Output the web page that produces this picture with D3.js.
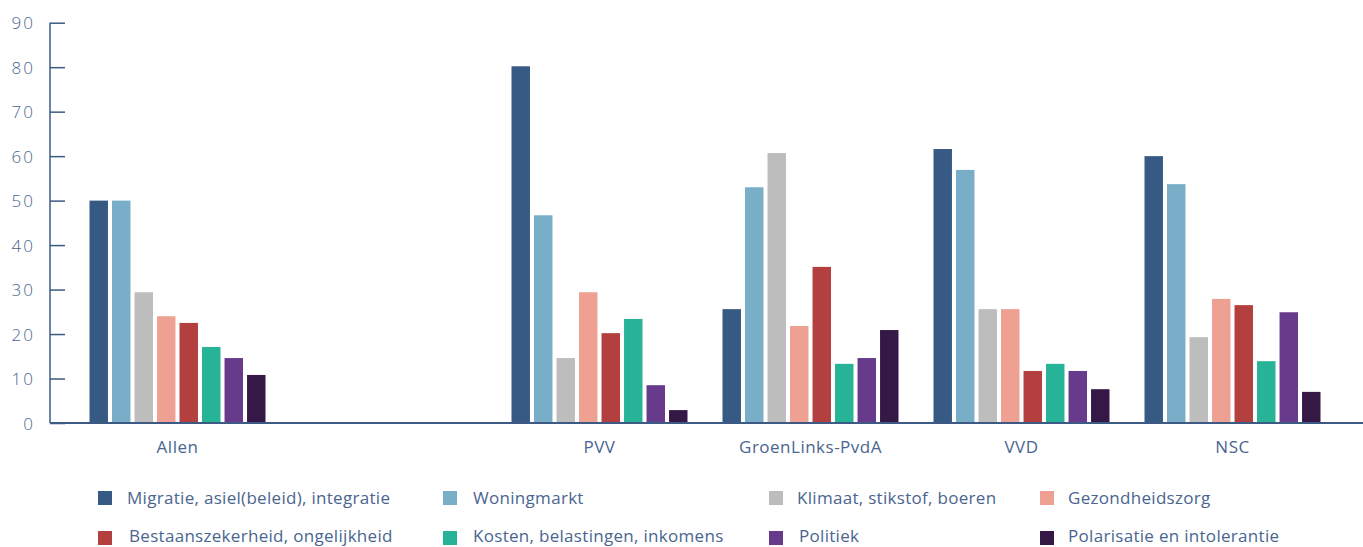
<!DOCTYPE html>
<html>
<head>
<meta charset="utf-8">
<script src="https://cdn.jsdelivr.net/npm/d3@7"></script>
<style>
  html, body { margin: 0; padding: 0; background: #fff; }
  svg { display: block; font-family: "Open Sans", Lato, sans-serif; font-weight: 400; }
</style>
</head>
<body>
<svg id="chart" width="1363" height="547"></svg>
<script>
const groups = ["Allen", "", "PVV", "GroenLinks-PvdA", "VVD", "NSC"];
const series = [
  "Migratie, asiel(beleid), integratie",
  "Woningmarkt",
  "Klimaat, stikstof, boeren",
  "Gezondheidszorg",
  "Bestaanszekerheid, ongelijkheid",
  "Kosten, belastingen, inkomens",
  "Politiek",
  "Polarisatie en intolerantie"
];
const colors = ["#375a84", "#78aec8", "#bdbdbd", "#eea093", "#b43f3f", "#27b398", "#683a8c", "#351846"];
// values per group, in series order
const allen = [50, 50, 29.4, 24, 22.5, 17.1, 14.6, 10.8];
const pvv   = [80.2, 46.7, 14.6, 29.4, 20.2, 23.4, 8.5, 2.9];
const glpvda= [25.6, 53, 60.7, 21.8, 35.1, 13.3, 14.6, 20.9];
const vvd   = [61.6, 56.9, 25.6, 25.6, 11.7, 13.3, 11.7, 7.6];
const nsc   = [60, 53.7, 19.3, 27.9, 26.5, 13.9, 24.9, 7.0];
const yTicks = [0, 10, 20, 30, 40, 50, 60, 70, 80, 90];

const dataByGroup = {"Allen": allen, "PVV": pvv, "GroenLinks-PvdA": glpvda, "VVD": vvd, "NSC": nsc};

const svg = d3.select("#chart");
const axisColor = "#3d5a85";
const textColor = "#4a6590";

const y = d3.scaleLinear().domain([0, 90]).range([423, 22.7]);
const x0 = d3.scaleBand().domain(groups).range([72, 1338]).padding(0);
const x1 = d3.scaleBand().domain(series).range([0, 176]).paddingInner(0.18).paddingOuter(0);

// bars
const gBars = svg.append("g");
groups.filter(g => dataByGroup[g]).forEach(g => {
  const cx = x0(g) + x0.bandwidth() / 2;
  const gg = gBars.append("g").attr("transform", `translate(${cx - 88},0)`);
  gg.selectAll("rect")
    .data(series.map((s, i) => ({s, v: dataByGroup[g][i], c: colors[i]})))
    .join("rect")
    .attr("x", d => x1(d.s))
    .attr("width", x1.bandwidth())
    .attr("y", d => y(d.v))
    .attr("height", d => y(0) - y(d.v))
    .attr("fill", d => d.c);
});

// y axis
const yAxis = svg.append("g").attr("transform", "translate(50,0)")
  .call(d3.axisRight(y).tickValues(yTicks).tickSize(15).tickFormat(d3.format("d")));
yAxis.select(".domain").attr("stroke", axisColor).attr("stroke-width", 1.5).attr("d", `M0,${y(90)}V${y(0)}`);
yAxis.selectAll(".tick line").attr("stroke", axisColor).attr("stroke-width", 1.5);
yAxis.selectAll(".tick text")
  .attr("x", -15).attr("text-anchor", "end").attr("dy", "0.36em")
  .attr("fill", textColor).style("font-size", "17px").style("letter-spacing", "2px")
  .style("font-family", "'Open Sans', sans-serif").style("font-weight", 300);

// x axis
const xAxis = svg.append("g").attr("transform", `translate(0,${y(0)})`)
  .call(d3.axisBottom(x0).tickSize(0).tickPadding(0));
xAxis.select(".domain").attr("stroke", axisColor).attr("stroke-width", 2).attr("d", "M50,0H1363");
xAxis.selectAll(".tick text")
  .attr("y", 30).attr("dy", 0)
  .attr("fill", textColor).style("font-size", "17px").style("letter-spacing", "0.5px")
  .style("font-family", "'Open Sans', sans-serif").style("font-weight", 400);

// legend
const legendX = [98, 443, 769, 1040];
const legendTextX = [127, 473, 797, 1068];
const legendRowY = [498, 536];
const legend = svg.append("g");
series.forEach((s, i) => {
  const col = i % 4, row = Math.floor(i / 4);
  const ly = legendRowY[row];
  legend.append("rect")
    .attr("x", legendX[col]).attr("y", ly - 7 + (row === 1 ? 2 : 0)).attr("width", 14).attr("height", 14)
    .attr("fill", colors[i]);
  legend.append("text")
    .attr("x", legendTextX[col] + (row === 1 && col !== 1 && col !== 3 ? 2 : 0)).attr("y", ly)
    .attr("dy", "0.35em")
    .attr("fill", textColor).style("font-size", "17px").style("letter-spacing", "0.3px")
    .text(s);
});
</script>
</body>
</html>
